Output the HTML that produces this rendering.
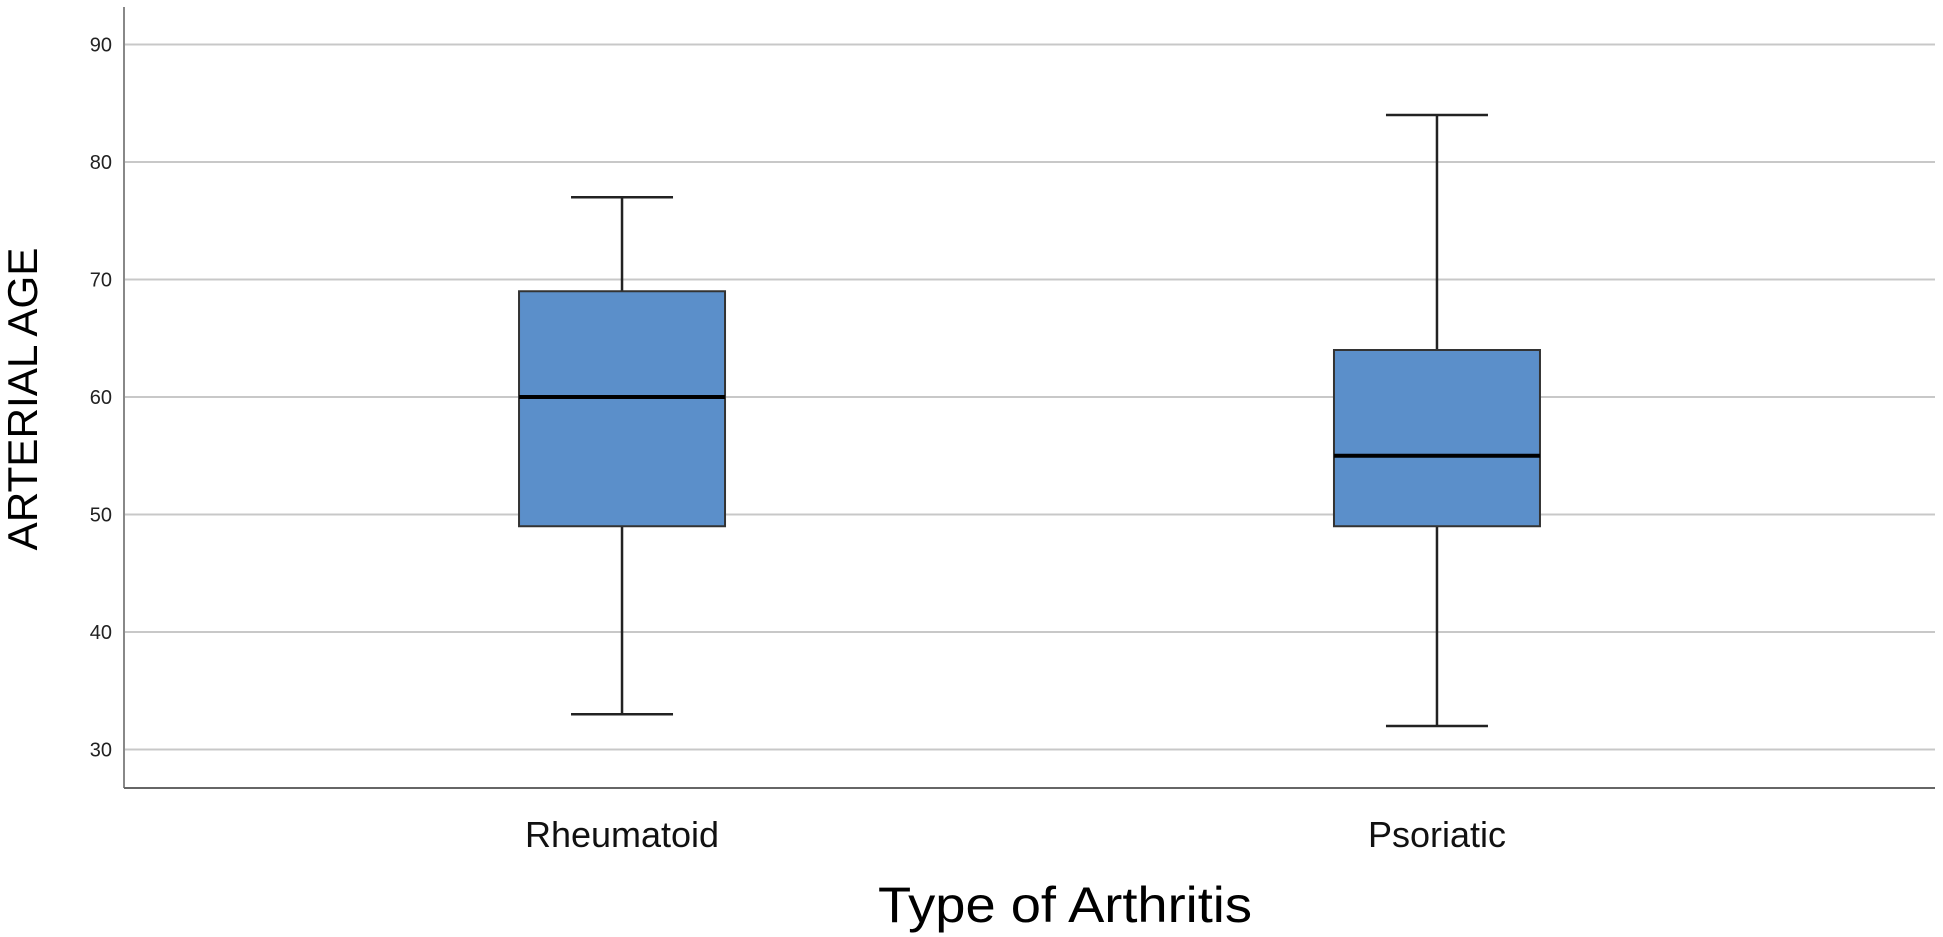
<!DOCTYPE html>
<html><head><meta charset="utf-8"><style>
html,body{margin:0;padding:0;background:#fff;}
svg{display:block;font-family:"Liberation Sans",sans-serif;}
</style></head><body>
<svg id="chart" width="1943" height="937" viewBox="0 0 1943 937" xmlns="http://www.w3.org/2000/svg">
<g id="grid"></g>
<g id="yticks"></g>
<g id="boxes"></g>
<line x1="124" y1="7" x2="124" y2="788" stroke="#888" stroke-width="2"/>
<line x1="124" y1="788" x2="1935" y2="788" stroke="#666" stroke-width="2"/>
<g id="xlabels"></g>
<text transform="translate(37,399) rotate(-90)" text-anchor="middle" font-size="42" textLength="303" lengthAdjust="spacingAndGlyphs" fill="#000">ARTERIAL AGE</text>
<text x="1065" y="922" text-anchor="middle" font-size="50" textLength="374" lengthAdjust="spacingAndGlyphs" fill="#000">Type of Arthritis</text>
</svg>
<script>
const categories = ["Rheumatoid", "Psoriatic"];
const mins = [33, 32];
const q1s = [49, 49];
const medians = [60, 55];
const q3s = [69, 64];
const maxs = [77, 84];
const yTicks = [30, 40, 50, 60, 70, 80, 90];

const NS = "http://www.w3.org/2000/svg";
const plotL = 124, plotR = 1935;
function y(v){ return 44.5 + (90 - v) * 11.75; }
function x(i){ return plotL + (plotR - plotL) * (0.275 + 0.45 * i); }
function mk(tag, attrs, parent){
  const e = document.createElementNS(NS, tag);
  for (const k in attrs) e.setAttribute(k, attrs[k]);
  parent.appendChild(e);
  return e;
}
const grid = document.getElementById('grid');
const yt = document.getElementById('yticks');
yTicks.forEach(t => {
  const l = mk('line', {x1: plotL, x2: plotR, y1: y(t), y2: y(t), stroke: '#c8c8c8', 'stroke-width': 2}, grid);
  
  
  const tx = mk('text', {x: 112, y: y(t) + 7, 'text-anchor': 'end', 'font-size': 20, fill: '#222'}, yt);
  tx.textContent = t;
  
  
});
const boxes = document.getElementById('boxes');
const xl = document.getElementById('xlabels');
const halfBox = 103, halfCap = 51;
categories.forEach((c, i) => {
  const cx = x(i);
  const g = mk('g', {}, boxes);
  
  
  const w1 = mk('line', {x1: cx, x2: cx, y1: y(maxs[i]), y2: y(q3s[i]), stroke: '#222', 'stroke-width': 2.5}, g);
  
  
  const w2 = mk('line', {x1: cx, x2: cx, y1: y(q1s[i]), y2: y(mins[i]), stroke: '#222', 'stroke-width': 2.5}, g);
  
  
  const c1 = mk('line', {x1: cx - halfCap, x2: cx + halfCap, y1: y(maxs[i]), y2: y(maxs[i]), stroke: '#222', 'stroke-width': 2.5}, g);
  
  
  const c2 = mk('line', {x1: cx - halfCap, x2: cx + halfCap, y1: y(mins[i]), y2: y(mins[i]), stroke: '#222', 'stroke-width': 2.5}, g);
  
  
  const r = mk('rect', {x: cx - halfBox, y: y(q3s[i]), width: 2 * halfBox, height: y(q1s[i]) - y(q3s[i]), fill: '#5b8fca', stroke: '#333', 'stroke-width': 2}, g);
  
  
  const m = mk('line', {x1: cx - halfBox, x2: cx + halfBox, y1: y(medians[i]), y2: y(medians[i]), stroke: '#000', 'stroke-width': 4}, g);
  
  
  const t = mk('text', {x: cx, y: 847, 'text-anchor': 'middle', 'font-size': 36, fill: '#111'}, xl);
  t.textContent = c;
  
  
});
</script>
</body></html>
